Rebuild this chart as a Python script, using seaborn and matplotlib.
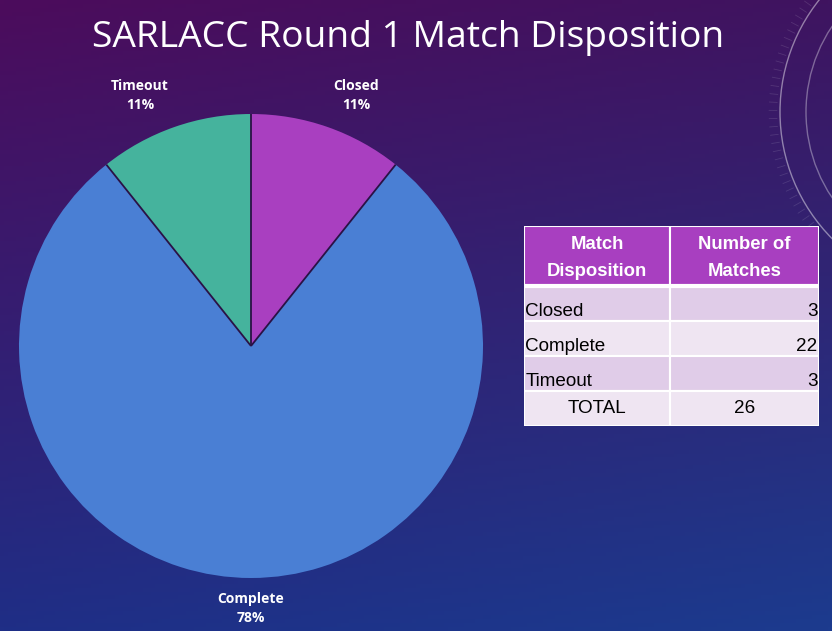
import numpy as np
import matplotlib
matplotlib.use("Agg")
import matplotlib.pyplot as plt
from matplotlib.patches import Rectangle, Circle
import seaborn as sns

# ---- data ----
categories = ["Closed", "Complete", "Timeout"]
matches = [3, 22, 3]
pct_labels = ["11%", "78%", "11%"]
total_label = "TOTAL"
total_value = 26
header = ["Match\nDisposition", "Number of\nMatches"]
title = "SARLACC Round 1 Match Disposition"

sns.set_theme(style="white")
plt.rcParams["font.family"] = ["Open Sans", "DejaVu Sans"]

slice_colors = ["#a93fc0", "#4a7fd4", "#45b39d"]

W, H = 832, 631
fig = plt.figure(figsize=(W / 100, H / 100), dpi=100)

# ---- background gradient ----
bg = fig.add_axes([0, 0, 1, 1])
bg.set_axis_off()
ny, nx = 160, 210
yy, xx = np.mgrid[0:1:ny * 1j, 0:1:nx * 1j]
yy = yy[..., None]
xx = xx[..., None]
tl = np.array([0x4c, 0x0c, 0x5c]) / 255
tr = np.array([0x3f, 0x14, 0x60]) / 255
bl = np.array([0x1f, 0x2e, 0x86]) / 255
br = np.array([0x1c, 0x3b, 0x8e]) / 255
img = (tl * (1 - xx) * (1 - yy) + tr * xx * (1 - yy) + bl * (1 - xx) * yy + br * xx * yy)
bg.imshow(img, extent=[0, W, H, 0], aspect="auto", origin="upper")
bg.set_xlim(0, W)
bg.set_ylim(H, 0)
# faint compass decoration
for r, a in [(180, 0.45), (154, 0.35)]:
    bg.add_patch(Circle((960, 112), r, fill=False, ec="white", lw=1, alpha=a))
for ang in np.deg2rad(np.arange(132, 218, 2.5)):
    bg.plot([960 + 183 * np.cos(ang), 960 + 191 * np.cos(ang)],
            [112 - 183 * np.sin(ang), 112 - 191 * np.sin(ang)],
            color="white", lw=0.6, alpha=0.12)

# ---- title ----
fig.text(408 / W, 1 - 38 / H, title, ha="center", va="center", color="white",
         fontsize=26.8)

# ---- pie ----
pax = fig.add_axes([19 / W, (H - 578) / H, 464 / W, 464 / H])
labels = [f"{c}\n{p}" for c, p in zip(categories, pct_labels)]
wedges, texts = pax.pie(matches, colors=slice_colors, startangle=90,
                        counterclock=False, labels=labels, labeldistance=1.07,
                        wedgeprops=dict(linewidth=0),
                        textprops=dict(color="white", fontsize=10, fontweight="bold",
                                       linespacing=1.45, multialignment="center"))
# dark separators between slices (from the wedges' own angles)
for w in wedges:
    th = np.deg2rad(w.theta1)
    pax.plot([0, np.cos(th)], [0, np.sin(th)], color="#2a1245", lw=1.3,
             solid_capstyle="butt")
for t in texts:
    x, y = t.get_position()
    if y < -0.5:
        t.set_ha("center")
        t.set_va("top")
        t.set_position((x, -1.06))
    else:
        t.set_ha("left" if x > 0 else "right")
        t.set_va("bottom")
pax.set_xlim(-1, 1)
pax.set_ylim(-1, 1)
pax.set_aspect("equal")
pax.set_axis_off()

# ---- table ----
tax = fig.add_axes([524 / W, (H - 426) / H, 295 / W, 200 / H])
tax.set_xlim(0, 1)
tax.set_ylim(1, 0)
tax.set_axis_off()
split = 0.495
hh = 0.30
rh = (1 - hh) / 4
hdr_color = "#a83fc0"
row_colors = ["#e0cce8", "#efe5f2"]
lw = 1.5
tfam = ["Liberation Sans", "DejaVu Sans"]
for j, txt in enumerate(header):
    x0 = 0 if j == 0 else split
    w = split if j == 0 else 1 - split
    tax.add_patch(Rectangle((x0, 0), w, hh, fc=hdr_color, ec="white", lw=lw))
    tax.text(x0 + w / 2, hh / 2 + 0.01, txt, ha="center", va="center", color="white",
             fontsize=13.3, fontweight="bold", family=tfam, linespacing=1.75)
rows = list(zip(categories, matches))
for i, (c, v) in enumerate(rows):
    y0 = hh + i * rh
    fc = row_colors[i % 2]
    tax.add_patch(Rectangle((0, y0), split, rh, fc=fc, ec="white", lw=lw))
    tax.add_patch(Rectangle((split, y0), 1 - split, rh, fc=fc, ec="white", lw=lw))
    tax.text(0.005, y0 + rh - 0.005, c, ha="left", va="bottom", color="black",
             fontsize=13.6, family=tfam)
    tax.text(0.995, y0 + rh - 0.005, str(v), ha="right", va="bottom", color="black",
             fontsize=13.6, family=tfam)
y0 = hh + 3 * rh
fc = row_colors[1]
tax.add_patch(Rectangle((0, y0), split, rh, fc=fc, ec="white", lw=lw))
tax.add_patch(Rectangle((split, y0), 1 - split, rh, fc=fc, ec="white", lw=lw))
tax.text(split / 2, y0 + rh / 2, total_label, ha="center", va="center", color="black",
         fontsize=13.6, family=tfam)
tax.text(split + (1 - split) / 2, y0 + rh / 2, str(total_value), ha="center", va="center",
         color="black", fontsize=13.6, family=tfam)
tax.plot([0, 1], [hh, hh], color="white", lw=3, solid_capstyle="butt")

fig.savefig("out.png", dpi=100)
